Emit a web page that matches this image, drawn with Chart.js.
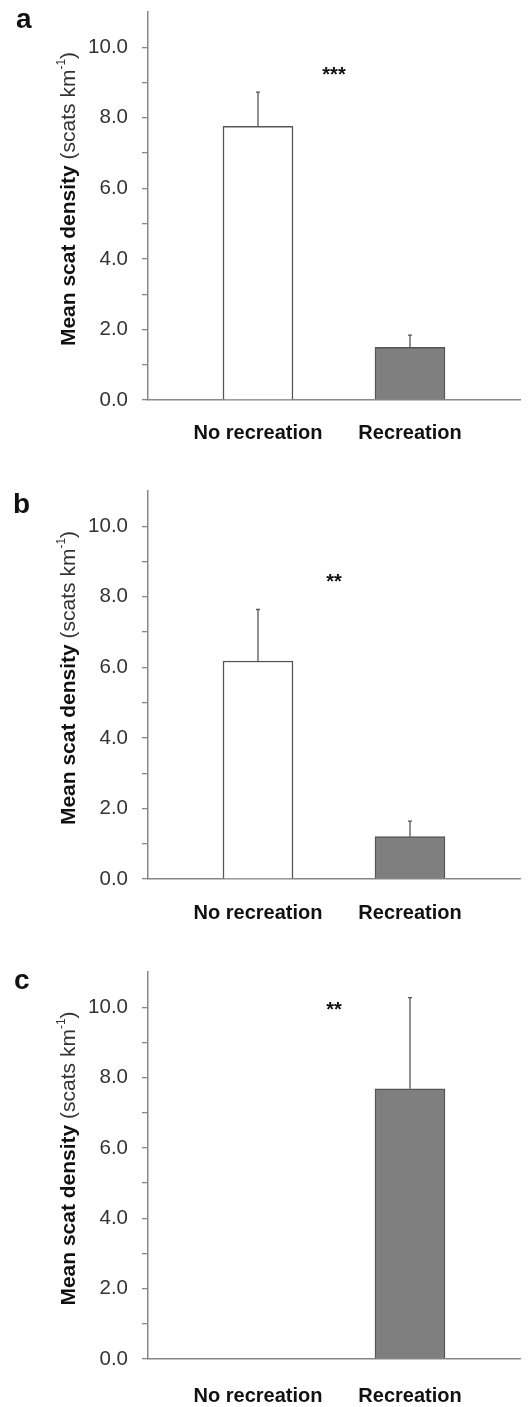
<!DOCTYPE html>
<html>
<head>
<meta charset="utf-8">
<script src="https://cdn.jsdelivr.net/npm/chart.js@4/dist/chart.umd.min.js"></script>
<style>
  body { margin: 0; background: #fff; }
  .panel { position: absolute; left: 0; width: 528px; }
</style>
</head>
<body>
<div class="panel" style="top:0px"><canvas id="chart-a" width="528" height="470"></canvas></div>
<div class="panel" style="top:479px"><canvas id="chart-b" width="528" height="470"></canvas></div>
<div class="panel" style="top:960px"><canvas id="chart-c" width="528" height="447"></canvas></div>
<script>
// categories and values
var categories = ["No recreation", "Recreation"];
var panelLetters = ["a", "b", "c"];

var meansA = [7.76, 1.49];
var seA    = [0.97, 0.35];
var meansB = [6.18, 1.20];
var seB    = [1.46, 0.44];
var meansC = [0, 7.68];
var seC    = [null, 2.59];

var stars  = ["***", "**", "**"];
var starY  = [9.35, 8.56, 10.05];

var yTickValues = [0, 1, 2, 3, 4, 5, 6, 7, 8, 9, 10];

var FONT = "'Liberation Sans', Arial, sans-serif";

// draws error bars, significance stars, panel letter and the y title
var extras = {
    id: "extras",
    afterDatasetsDraw: function(chart, args, opts) {
        var ctx = chart.ctx;
        var xs = chart.scales.x, ys = chart.scales.y;
        ctx.save();

        // error bars (upper half only, small cap)
        ctx.strokeStyle = "#555";
        ctx.lineWidth = 1.3;
        opts.means.forEach(function(m, i) {
            if (opts.se[i] == null) return;
            var x = xs.getPixelForValue(i + 1);
            var y0 = ys.getPixelForValue(m);
            var y1 = ys.getPixelForValue(m + opts.se[i]);
            ctx.beginPath();
            ctx.moveTo(x, y0);
            ctx.lineTo(x, y1);
            ctx.moveTo(x - 2, y1);
            ctx.lineTo(x + 2, y1);
            ctx.stroke();
        });

        // stars
        ctx.fillStyle = "#111";
        ctx.font = "bold 20px " + FONT;
        ctx.textAlign = "center";
        ctx.textBaseline = "alphabetic";
        ctx.fillText(opts.star, xs.getPixelForValue(1.5), ys.getPixelForValue(opts.starY) + 11);

        // panel letter
        ctx.textAlign = "left";
        ctx.font = "bold 28px " + FONT;
        ctx.fillText(opts.letter, opts.letterX, opts.letterY);

        // y title, bold + regular + superscript
        var cy = (chart.chartArea.top + chart.chartArea.bottom) / 2 - 7;
        ctx.translate(75, cy);
        ctx.rotate(-Math.PI / 2);
        var p1 = "Mean scat density ", p2 = "(scats km", p3 = "-1", p4 = ")";
        ctx.font = "bold 21px " + FONT;
        var w1 = ctx.measureText(p1).width;
        ctx.font = "21px " + FONT;
        var w2 = ctx.measureText(p2).width, w4 = ctx.measureText(p4).width;
        ctx.font = "12px " + FONT;
        var w3 = ctx.measureText(p3).width;
        var x0 = -(w1 + w2 + w3 + w4) / 2;
        ctx.fillStyle = "#111";
        ctx.font = "bold 21px " + FONT;
        ctx.fillText(p1, x0, 0);
        ctx.fillStyle = "#333";
        ctx.font = "21px " + FONT;
        ctx.fillText(p2, x0 + w1, 0);
        ctx.font = "12px " + FONT;
        ctx.fillText(p3, x0 + w1 + w2, -10);
        ctx.font = "21px " + FONT;
        ctx.fillText(p4, x0 + w1 + w2 + w3, 0);

        ctx.restore();
    }
};

function makePanel(id, means, se, idx, xAxisHeight, labelPad, letterX, letterY) {
    var config = {
        type: "bar",
        data: {
            datasets: [{
                data: categories.map(function(c, i) { return { x: i + 1, y: means[i] }; }),
                backgroundColor: ["#ffffff", "#7f7f7f"],
                borderColor: "#555",
                borderWidth: 1.5,
                barThickness: 70
            }]
        },
        options: {
            responsive: false,
            animation: false,
            layout: { padding: { top: 12, right: 8, bottom: 0, left: 0 } },
            plugins: {
                legend: { display: false },
                tooltip: { enabled: false },
                extras: {
                    means: means, se: se,
                    star: stars[idx], starY: starY[idx],
                    letter: panelLetters[idx], letterX: letterX, letterY: letterY
                }
            },
            scales: {
                x: {
                    type: "linear",
                    offset: false,
                    min: 0.2763,
                    max: 2.7237,
                    afterBuildTicks: function(s) { s.ticks = [{ value: 1 }, { value: 2 }]; },
                    afterFit: function(s) { s.height = xAxisHeight; s.paddingLeft = 0; s.paddingRight = 0; },
                    grid: { drawOnChartArea: false, drawTicks: false },
                    border: { color: "#888", width: 1.5 },
                    ticks: {
                        autoSkip: false,
                        maxRotation: 0,
                        padding: labelPad,
                        color: "#111",
                        font: { family: FONT, size: 20, weight: "bold" },
                        callback: function(v) { return categories[v - 1]; }
                    }
                },
                y: {
                    min: 0,
                    max: 11,
                    afterBuildTicks: function(s) {
                        s.ticks = yTickValues.map(function(v) { return { value: v }; });
                    },
                    afterFit: function(s) { s.width = 148; s.paddingTop = 0; s.paddingBottom = 0; },
                    grid: { drawOnChartArea: false, tickLength: 6, color: "#888", lineWidth: 1.3 },
                    border: { color: "#888", width: 1.5 },
                    ticks: {
                        autoSkip: false,
                        padding: 14,
                        color: "#333",
                        font: { family: FONT, size: 20.5 },
                        callback: function(v) { return v % 2 === 0 ? v.toFixed(1) : ""; }
                    }
                }
            }
        },
        plugins: [extras]
    };
    return new Chart(document.getElementById(id), config);
}

var chartA = makePanel("chart-a", meansA, seA, 0, 70, 21, 16, 28);
var chartB = makePanel("chart-b", meansB, seB, 1, 70, 22, 13, 34);
var chartC = makePanel("chart-c", meansC, seC, 2, 48, 25, 14, 29);
</script>
</body>
</html>
